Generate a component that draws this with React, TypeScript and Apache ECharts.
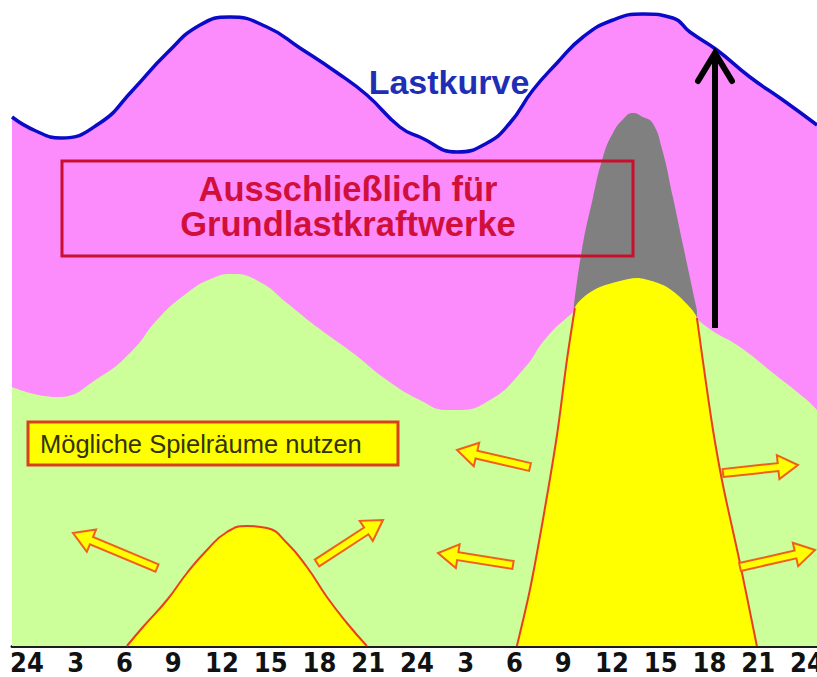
import React, { useEffect, useRef } from "react";
import * as echarts from "echarts";

// Hour positions of the tick labels (0..48 h, two days)
const hourTicks = [0, 3, 6, 9, 12, 15, 18, 21, 24, 27, 30, 33, 36, 39, 42, 45, 48];

// Load curve ("Lastkurve") – [hour, load]
const loadCurve: [number, number][] = [
  [-0.92, 529], [0.55, 515], [2.09, 508], [4.49, 523], [6.52, 556], [8.62, 593],
  [10.65, 621], [12.49, 629], [14.77, 619], [16.8, 598], [19.02, 574], [20.92, 551],
  [22.95, 519], [24.18, 509], [26.46, 494], [28.31, 503], [29.72, 523], [31.14, 556],
  [32.62, 583], [34.22, 609], [36.06, 626], [37.91, 632], [39.75, 628], [40.8, 614],
  [42.46, 596], [44.49, 569], [46.52, 546], [48.62, 521],
];

// Green band (middle load)
const middleLoad: [number, number][] = [
  [-0.92, 259], [1.85, 249], [4.49, 269], [6.52, 296], [8.0, 326], [9.85, 353],
  [11.45, 368], [12.68, 372], [14.34, 364], [16.0, 343], [17.85, 319], [20.06, 293],
  [22.15, 266], [24.18, 246], [25.85, 236], [26.46, 236], [28.49, 246], [30.52, 276],
  [32.0, 309], [33.42, 331], [35.3, 356], [37.5, 366], [39.6, 351], [41.85, 319],
  [43.88, 299], [45.91, 273], [48.0, 246], [48.62, 236],
];

// Grey peak
const peakLoad: [number, number][] = [
  [33.66, 340], [34.15, 396], [34.8, 446], [35.45, 489], [36.06, 513], [36.7, 527],
  [37.3, 533], [37.9, 529], [38.5, 523], [39.1, 496], [39.75, 449], [40.4, 399],
  [41.23, 336],
];

// Small yellow bump (day 1)
const smallBump: [number, number][] = [
  [6.15, 0], [7.14, 19], [8.62, 46], [9.85, 73], [11.08, 96], [12.31, 114],
  [13.54, 120], [14.77, 118], [16.0, 103], [17.23, 79], [18.46, 49], [19.69, 23],
  [20.92, 0],
];

// Large yellow column (day 2)
const columnLeft: [number, number][] = [
  [30.15, 0], [30.95, 56], [31.75, 126], [32.62, 211], [33.23, 286], [33.72, 338],
];
const columnTop: [number, number][] = [
  [34.34, 350], [35.26, 359], [36.49, 365], [37.54, 368], [38.65, 364], [39.38, 359],
  [40.37, 346],
];
const columnRight: [number, number][] = [
  [41.23, 328], [41.72, 271], [42.22, 216], [42.83, 161], [43.88, 83], [44.92, 0],
];

const PINK = "#fc8cfc";
const GREEN = "#ccff99";
const YELLOW = "#ffff00";
const GREY = "#808080";
const EDGE_RED = "#e8401a";
const SANS = "'Liberation Sans', Arial, sans-serif";

function blockArrow(tail: number[], tip: number[]) {
  const shaft = 4, head = 12, headLen = 20;
  const dx = tip[0] - tail[0], dy = tip[1] - tail[1];
  const len = Math.hypot(dx, dy);
  const ux = dx / len, uy = dy / len;
  const nx = -uy, ny = ux;
  const bx = tip[0] - ux * headLen, by = tip[1] - uy * headLen;
  return {
    type: "polygon",
    shape: {
      points: [
        [tail[0] + nx * shaft, tail[1] + ny * shaft],
        [bx + nx * shaft, by + ny * shaft],
        [bx + nx * head, by + ny * head],
        [tip[0], tip[1]],
        [bx - nx * head, by - ny * head],
        [bx - nx * shaft, by - ny * shaft],
        [tail[0] - nx * shaft, tail[1] - ny * shaft],
      ],
    },
    style: { fill: YELLOW, stroke: "#f0601a", lineWidth: 2, lineJoin: "miter" },
    z: 10,
  };
}

export default function App() {
  const ref = useRef<HTMLDivElement>(null);
  useEffect(() => {
    document.body.style.margin = "0";
    const chart = echarts.init(ref.current!, null, { renderer: "svg" });
    const areaSeries = (name: string, data: [number, number][], fill: string, smooth: number, line?: any) => ({
      name,
      type: "line",
      data,
      smooth,
      symbol: "none",
      lineStyle: line || { width: 0, color: fill },
      areaStyle: { color: fill, opacity: 1 },
      silent: true,
    });
    chart.setOption({
      animation: false,
      backgroundColor: "#ffffff",
      grid: { left: 12, right: 0, top: 0, bottom: 31, containLabel: false, outerBoundsMode: "none" },
      xAxis: {
        type: "value",
        min: -0.92,
        max: 48.62,
        splitLine: { show: false },
        axisTick: { show: false },
        axisLine: { show: true, onZero: false, lineStyle: { color: "#1c1c1c", width: 3 } },
        axisLabel: {
          customValues: hourTicks,
          margin: 5,
          lineHeight: 22,
          color: "#111",
          fontSize: 27,
          fontWeight: "bold",
          fontFamily: "'Liberation Sans Narrow', 'DejaVu Sans Condensed', 'Liberation Sans', sans-serif",
          formatter: (v: number) => String(v % 24 === 0 ? 24 : v % 24),
        },
      },
      yAxis: { type: "value", min: 0, max: 646, show: false, splitLine: { show: false } },
      series: [
        areaSeries("Lastkurve", loadCurve, PINK, 0.5, { width: 3.5, color: "#0a0ac8" }),
        areaSeries("Mittellast", middleLoad, GREEN, 0.5),
        areaSeries("Spitzenlast", peakLoad, GREY, 0.5),
        areaSeries("Spielraum Tag 1", smallBump, YELLOW, 0.5, { width: 2, color: EDGE_RED }),
        areaSeries("Spielraum Tag 2", [...columnLeft, ...columnTop, ...columnRight], YELLOW, 0.3),
        {
          type: "line", data: columnLeft, symbol: "none", smooth: 0.3, silent: true,
          lineStyle: { width: 2, color: EDGE_RED },
        },
        {
          type: "line", data: columnRight, symbol: "none", smooth: 0.3, silent: true,
          lineStyle: { width: 2, color: EDGE_RED },
        },
      ],
      graphic: [
        // black arrow
        {
          type: "line", shape: { x1: 715, y1: 328, x2: 715, y2: 56 },
          style: { stroke: "#000", lineWidth: 6 }, z: 10,
        },
        {
          type: "polyline", shape: { points: [[698, 81], [715, 53], [732, 81]] },
          style: { stroke: "#000", lineWidth: 6, fill: null, lineJoin: "miter", lineCap: "round" }, z: 10,
        },
        // Lastkurve label
        {
          type: "text", x: 449, y: 82,
          style: {
            text: "Lastkurve", fill: "#1f2fb5", fontSize: 34, fontWeight: "bold", lineHeight: 34,
            fontFamily: SANS, align: "center", verticalAlign: "middle",
          }, z: 10,
        },
        // red box
        {
          type: "rect", shape: { x: 62, y: 161, width: 571, height: 95 },
          style: { fill: "none", stroke: "#c8102e", lineWidth: 3 }, z: 10,
        },
        {
          type: "text", x: 348, y: 206,
          style: {
            text: "Ausschließlich für\nGrundlastkraftwerke", fill: "#d0103a", fontSize: 34.5,
            fontWeight: "bold", lineHeight: 35,
            fontFamily: SANS, align: "center", verticalAlign: "middle",
          }, z: 10,
        },
        // yellow box
        {
          type: "rect", shape: { x: 28, y: 422, width: 370, height: 43 },
          style: { fill: YELLOW, stroke: "#d8401a", lineWidth: 3 }, z: 10,
        },
        {
          type: "text", x: 40, y: 444,
          style: {
            text: "Mögliche Spielräume nutzen", fill: "#333300", fontSize: 25.5,
            fontFamily: SANS, align: "left", verticalAlign: "middle",
          }, z: 11,
        },
        blockArrow([157, 568], [73, 533]),
        blockArrow([317, 563], [383, 520]),
        blockArrow([530, 467], [457, 450]),
        blockArrow([513, 565], [438, 553]),
        blockArrow([723, 473], [798, 465]),
        blockArrow([740, 567], [815, 550]),
      ],
    });
    return () => chart.dispose();
  }, []);
  return (
    <div
      ref={ref}
      style={{ position: "fixed", left: 0, top: 0, width: 817, height: 677, background: "#fff" }}
    />
  );
}
